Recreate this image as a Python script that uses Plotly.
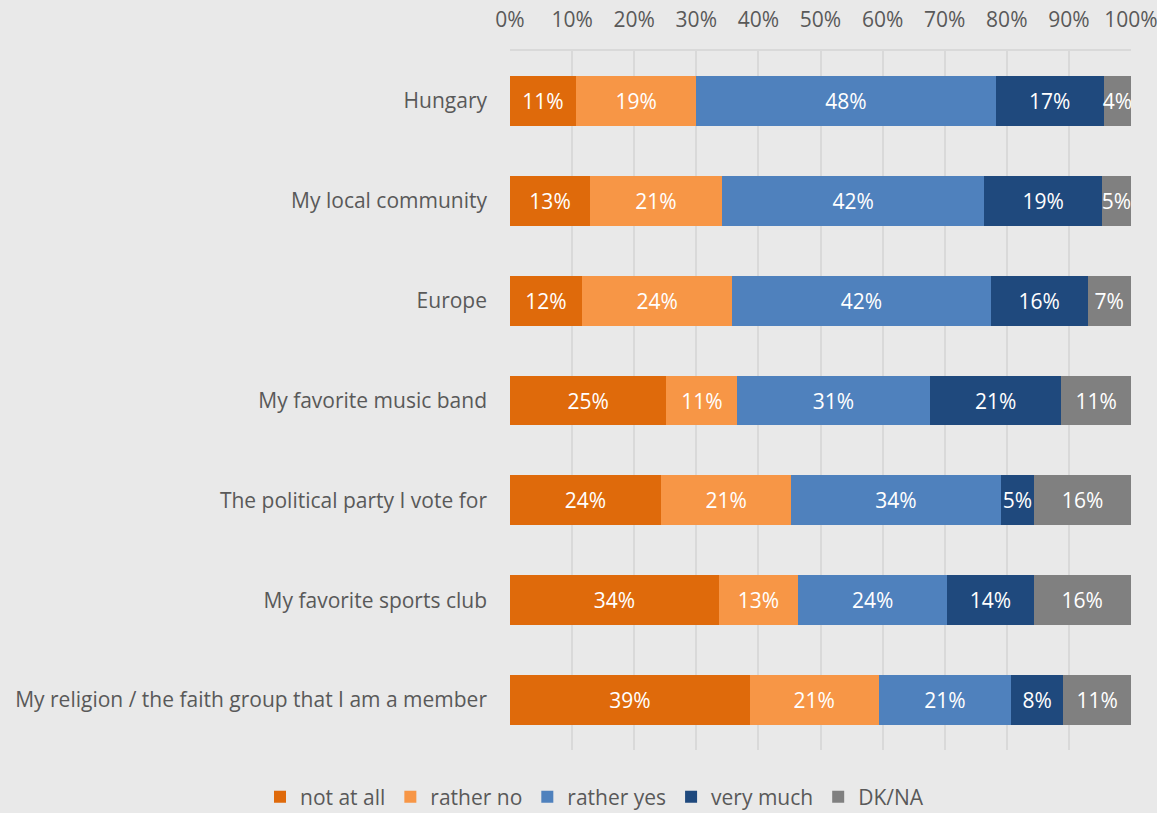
import plotly.graph_objects as go

categories = [
    "Hungary",
    "My local community",
    "Europe",
    "My favorite music band",
    "The political party I vote for",
    "My favorite sports club",
    "My religion / the faith group that I am a member",
]
series_names = ["not at all", "rather no", "rather yes", "very much", "DK/NA"]
not_at_all = [10.6, 12.9, 11.6, 25.2, 24.3, 33.6, 38.6]
rather_no = [19.4, 21.2, 24.2, 11.4, 21.0, 12.8, 20.8]
rather_yes = [48.2, 42.3, 41.6, 31.0, 33.7, 24.0, 21.3]
very_much = [17.4, 18.9, 15.6, 21.2, 5.4, 13.9, 8.4]
dk_na = [4.4, 4.7, 7.0, 11.2, 15.6, 15.7, 10.9]
colors = ["#DF6A0B", "#F79646", "#4F81BD", "#1F497D", "#808080"]
tick_vals = list(range(0, 101, 10))

FONT = "Open Sans"
FS = 21
fig = go.Figure()
for name, vals, col in zip(series_names, [not_at_all, rather_no, rather_yes, very_much, dk_na], colors):
    fig.add_trace(go.Bar(
        y=categories, x=vals, name=name, orientation="h",
        marker=dict(color=col, line=dict(width=0)),
        texttemplate="%{x:.0f}%", textposition="inside", insidetextanchor="middle",
        textangle=0,
        textfont=dict(color="white", size=FS, family=FONT),
        constraintext="none", hoverinfo="skip",
    ))

fig.update_layout(
    barmode="stack", bargap=0.5,
    width=1157, height=813,
    margin=dict(l=510, r=26, t=51, b=63, autoexpand=False),
    paper_bgcolor="#E9E9E9", plot_bgcolor="#E9E9E9",
    font=dict(family=FONT, size=FS, color="#595959"),
    uniformtext=dict(minsize=FS, mode="show"),
    showlegend=True,
    legend=dict(orientation="h", xref="paper", x=(260 - 510) / 621, xanchor="left",
                yref="paper", y=(750 - 797) / 699, yanchor="middle",
                font=dict(size=FS, color="#595959"), traceorder="normal",
                itemwidth=30, tracegroupgap=0),
)
fig.update_xaxes(side="top", range=[0, 100], tickvals=tick_vals,
                 ticktext=[f"{v}%" for v in tick_vals],
                 showgrid=True, gridcolor="#D9D9D9", gridwidth=2,
                 showline=True, linecolor="#D9D9D9", linewidth=2,
                 zeroline=False, ticks="", fixedrange=True, automargin=False,
                 ticklabelstandoff=14, ticklabeloverflow="allow",
                 tickfont=dict(size=FS, color="#595959"))
fig.update_yaxes(autorange="reversed", showgrid=False, ticks="",
                 ticklabelstandoff=22, showline=False, automargin=False,
                 tickfont=dict(size=FS, color="#595959"))
fig.write_html("out.html")
